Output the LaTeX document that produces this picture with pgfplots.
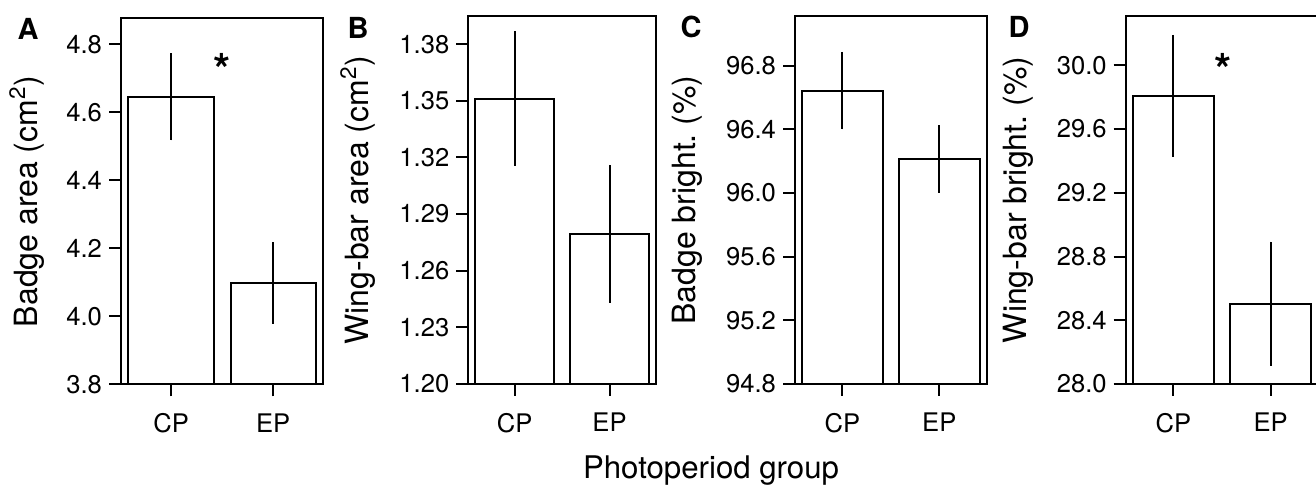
\documentclass[border=0pt]{standalone}
\usepackage{pgfplots}
\pgfplotsset{compat=1.18}
\usepackage{fontspec}
\setmainfont{TeX Gyre Heros}
\begin{document}
\begin{tikzpicture}
\path[use as bounding box] (0,0) rectangle (658pt,243pt);
\pgfplotsset{
  panel/.style={
    scale only axis,
    anchor=south west,
    axis line style={line width=1pt},
    every tick/.style={line width=1pt, black},
    tick align=outside,
    major tick length=6pt,
    xtick pos=lower, ytick pos=left,
    xtick={1,2.2}, xticklabels={CP,EP},
    xmin=0.412, xmax=2.788,
    ybar, bar width=1,
    scaled y ticks=false,
    /pgf/number format/assume math mode=true,
    /pgf/number format/fixed, /pgf/number format/fixed zerofill,
    tick label style={font=\fontsize{12.8}{15}\selectfont},
    xticklabel style={yshift=-5pt},
    label style={font=\fontsize{16}{19}\selectfont},
    ylabel style={anchor=center},
    clip=true,
  },
  bars/.style={draw=black, fill=white, line width=1pt,
    error bars/.cd, y dir=both, y explicit, error mark=none,
    error bar style={line width=1pt, black}},
}
% Panel A
\begin{axis}[panel, at={(60.5pt,50.85pt)}, width=101.15pt, height=183pt,
  ymin=3.8, ymax=4.876, ytick={3.8,4.0,4.2,4.4,4.6,4.8},
  /pgf/number format/precision=1,
  ylabel={Badge area (cm\textsuperscript{2})},
  ylabel style={at={(axis description cs:-0.465,0.5)}}]
\addplot[bars] coordinates {(1,4.645) +- (0,0.128) (2.2,4.098) +- (0,0.12)};
\node[font=\fontsize{22}{22}\bfseries] at (axis cs:1.6,4.725) {*};
\end{axis}
% Panel B
\begin{axis}[panel, at={(234.15pt,51pt)}, width=93.85pt, height=184pt,
  ymin=1.2, ymax=1.3949, ytick={1.20,1.23,1.26,1.29,1.32,1.35,1.38},
  /pgf/number format/precision=2,
  ylabel={Wing-bar area (cm\textsuperscript{2})},
  ylabel style={at={(axis description cs:-0.588,0.5)}}]
\addplot[bars] coordinates {(1,1.3512) +- (0,0.0355) (2.2,1.2796) +- (0,0.0365)};
\end{axis}
% Panel C
\begin{axis}[panel, at={(397.5pt,51pt)}, width=95.85pt, height=184pt,
  ymin=94.8, ymax=97.112, ytick={94.8,95.2,95.6,96.0,96.4,96.8},
  /pgf/number format/precision=1,
  ylabel={Badge bright.\ (\%)},
  ylabel style={at={(axis description cs:-0.563,0.5)}}]
\addplot[bars] coordinates {(1,96.643) +- (0,0.243) (2.2,96.214) +- (0,0.213)};
\end{axis}
% Panel D
\begin{axis}[panel, at={(562.85pt,51pt)}, width=96.35pt, height=184pt,
  ymin=28.0, ymax=30.31, ytick={28.0,28.4,28.8,29.2,29.6,30.0},
  /pgf/number format/precision=1,
  ylabel={Wing-bar bright.\ (\%)},
  ylabel style={at={(axis description cs:-0.559,0.5)}}]
\addplot[bars] coordinates {(1,29.81) +- (0,0.382) (2.2,28.504) +- (0,0.39)};
\node[font=\fontsize{22}{22}\bfseries] at (axis cs:1.61,29.975) {*};
\end{axis}
% panel letters
\node[font=\fontsize{14.5}{16}\bfseries] at (14pt,228.5pt) {A};
\node[font=\fontsize{14.5}{16}\bfseries] at (179pt,229pt) {B};
\node[font=\fontsize{14.5}{16}\bfseries] at (345.5pt,229.5pt) {C};
\node[font=\fontsize{14.5}{16}\bfseries] at (509.5pt,229.5pt) {D};
\node[font=\fontsize{15.6}{18}\selectfont, anchor=base] at (355.5pt,3.6pt) {Photoperiod group};
\end{tikzpicture}
\end{document}
